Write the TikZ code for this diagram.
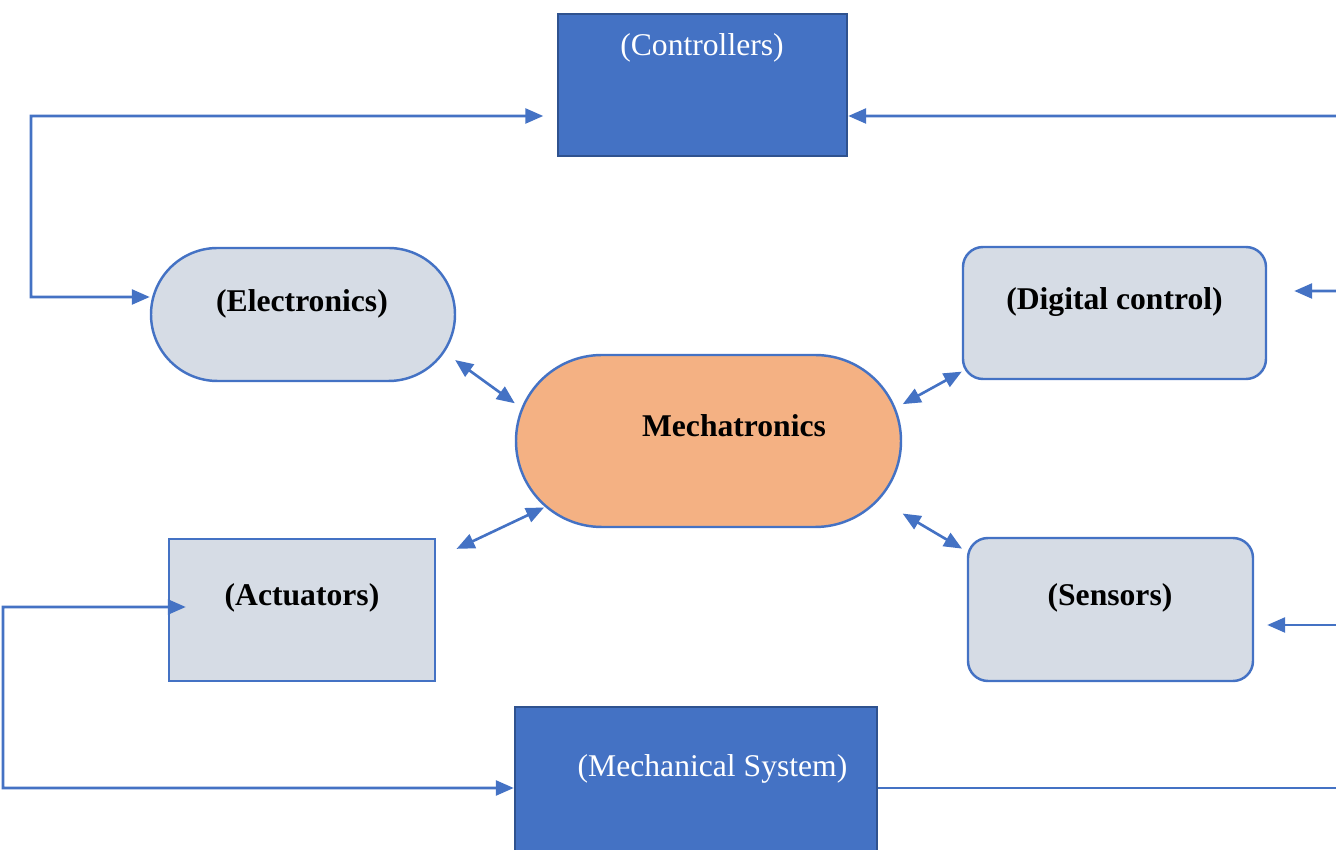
\documentclass[tikz,border=0pt]{standalone}
\usepackage{fontspec}
\setmainfont{Liberation Serif}
\usetikzlibrary{arrows.meta,shapes.misc}

\definecolor{boxblue}{HTML}{4472C4}
\definecolor{darkblue}{HTML}{2F528F}
\definecolor{softgray}{HTML}{D6DCE5}
\definecolor{peach}{HTML}{F4B183}

\begin{document}
\begin{tikzpicture}[
    every node/.style={font=\fontsize{18}{22}\selectfont},
    >={Triangle[length=0.36cm,width=0.3cm]},
    link/.style={draw=boxblue, line width=1.5pt},
    bluebox/.style={rectangle, fill=boxblue, draw=darkblue, line width=1.4pt},
    pillbox/.style={rounded rectangle, inner sep=0pt, draw=boxblue, line width=1.4pt},
    softbox/.style={rectangle, rounded corners=0.4cm, fill=softgray, draw=boxblue, line width=1.4pt},
    flatbox/.style={rectangle, fill=softgray, draw=boxblue, line width=1.4pt},
    boldtext/.style={font=\fontsize{18}{22}\selectfont\bfseries},
    whitetext/.style={text=white},
]

% === Page frame ===
\useasboundingbox (0,0) rectangle (26.72,17);

% === Controllers (top) ===
\node[bluebox, minimum width=5.78cm, minimum height=2.84cm] (ctrl) at (14.05,15.3) {};
\node[whitetext] (ctrltext) at (14.04,16.05) {(Controllers)};

% === Mechanical system (bottom, runs off the page) ===
\node[bluebox, minimum width=7.24cm, minimum height=3.24cm] (mechsys) at (13.92,1.24) {};
\node[whitetext] (mechsystext) at (14.25,1.62) {(Mechanical System)};

% === Mechatronics (centre) ===
\node[pillbox, fill=peach, minimum width=7.7cm, minimum height=3.44cm] (mech) at (14.17,8.18) {};
\node[boldtext] (mechtext) at (14.68,8.48) {Mechatronics};

% === Four fields round it ===
\node[pillbox, fill=softgray, minimum width=6.08cm, minimum height=2.66cm] (elec) at (6.06,10.71) {};
\node[boldtext] (electext) at (6.04,10.93) {(Electronics)};

\node[softbox, minimum width=6.06cm, minimum height=2.64cm] (dig) at (22.29,10.74) {};
\node[boldtext] (digtext) at (22.29,10.96) {(Digital control)};

\node[flatbox, minimum width=5.32cm, minimum height=2.84cm] (act) at (6.04,4.8) {};
\node[boldtext] (acttext) at (6.04,5.04) {(Actuators)};

\node[softbox, minimum width=5.7cm, minimum height=2.86cm] (sen) at (22.21,4.81) {};
\node[boldtext] (sentext) at (22.2,5.04) {(Sensors)};

% === Rails round the outside ===
\coordinate (topleft) at (0.62,14.68);
\coordinate (topright) at (26.8,14.68);
\coordinate (digin) at (26.8,11.18);
\coordinate (senin) at (26.8,4.5);
\coordinate (botleft) at (0.06,4.86);
\coordinate (botright) at (26.8,1.24);

\draw[link, <->] ([shift={(-0.27,-0.62)}]ctrl.west) -- (topleft) |- ([yshift=0.35cm]elec.west);
\draw[link, ->] (topright) -- ([yshift=-0.62cm]ctrl.east);
\draw[link, ->, shorten >=0.54cm] (digin) -- ([yshift=0.44cm]dig.east);
\draw[link, ->, shorten >=0.26cm] (senin) -- ([yshift=-0.31cm]sen.east);
\draw[link, <->] ([shift={(0.36,0.06)}]act.west) -- (botleft) |- (mechsys.west);
\draw[link] (mechsys.east) -- (botright);

% === Links to the centre ===
\draw[link, <->, shorten <=0.26cm, shorten >=0.16cm] (elec.-15.6) -- (mech.170);
\draw[link, <->, shorten <=0.02cm, shorten >=0.45cm] (mech.202.9) -- (act.21);
\draw[link, <->, shorten <=0.16cm] (mech.10.6) -- (dig.201.3);
\draw[link, <->, shorten <=0.54cm, shorten >=0.11cm] (mech.-19.6) -- (sen.158.4);

\end{tikzpicture}
\end{document}
